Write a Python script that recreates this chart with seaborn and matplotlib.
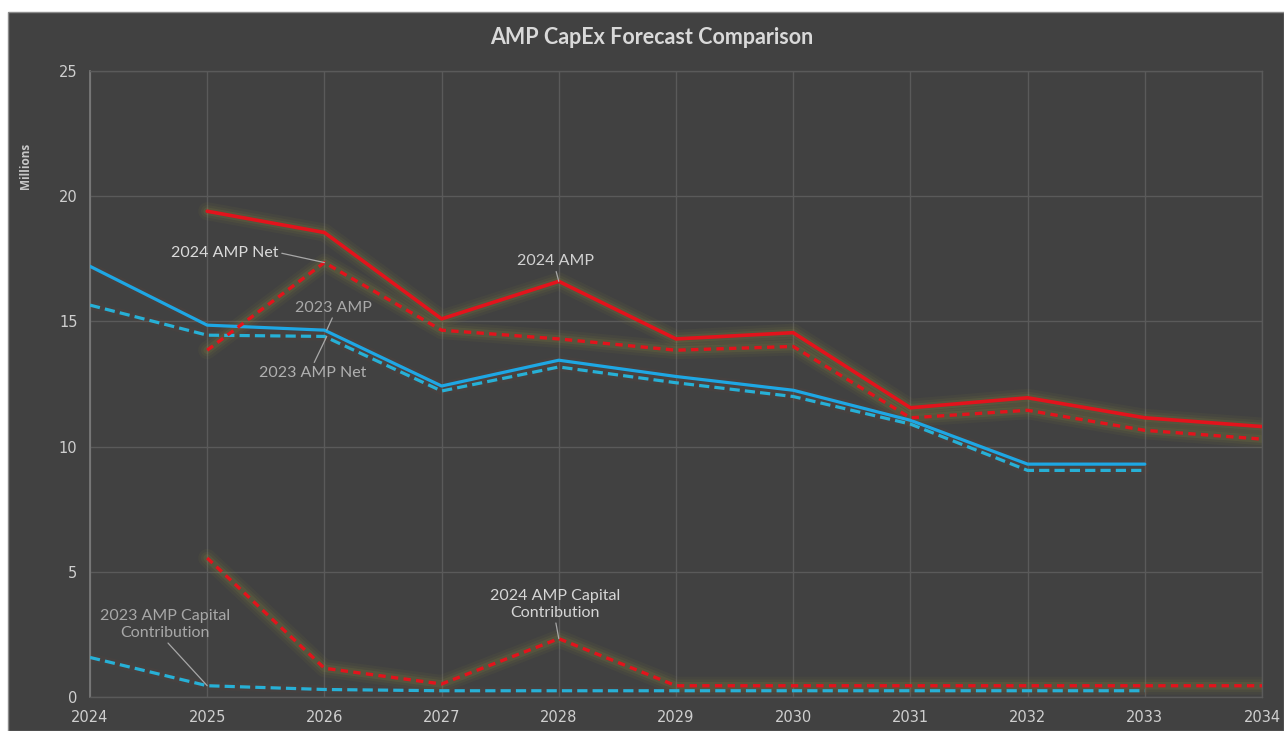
import numpy as np
import pandas as pd
import matplotlib
matplotlib.use("Agg")
import matplotlib.pyplot as plt
from matplotlib.patches import Rectangle
import seaborn as sns

# Forecast years and series (millions)
years = list(range(2024, 2035))
amp_2024 = [np.nan, 19.4, 18.55, 15.1, 16.6, 14.3, 14.55, 11.55, 11.95, 11.15, 10.8]
amp_2024_net = [np.nan, 13.85, 17.35, 14.65, 14.3, 13.85, 14.0, 11.15, 11.45, 10.65, 10.3]
amp_2023 = [17.2, 14.85, 14.65, 12.42, 13.45, 12.8, 12.25, 11.05, 9.3, 9.3, np.nan]
amp_2023_net = [15.65, 14.45, 14.4, 12.22, 13.18, 12.55, 12.0, 10.9, 9.05, 9.05, np.nan]
cap_2024 = [np.nan, 5.55, 1.15, 0.52, 2.33, 0.45, 0.45, 0.45, 0.45, 0.45, 0.45]
cap_2023 = [1.58, 0.45, 0.3, 0.25, 0.25, 0.25, 0.25, 0.25, 0.25, 0.25, np.nan]

y_ticks = [0, 5, 10, 15, 20, 25]
x_ticks = years

BG = "#414141"
GRID = "#5a5a5a"
RED = "#e3131c"
BLUE = "#1ea7e4"
BLUE_D = "#27b0d6"
GLOW = "#9c9a3c"

sns.set_theme(style="dark")
plt.rcParams["font.family"] = ["Lato", "DejaVu Sans"]

fig = plt.figure(figsize=(12.84, 7.31), dpi=100, facecolor="white")
fig.patches.append(Rectangle((8 / 1284, 0), 1 - 8 / 1284, 1 - 12 / 731,
                             transform=fig.transFigure, facecolor=BG,
                             edgecolor="#8c8c8c", linewidth=1.0, zorder=-10))
ax = fig.add_axes([90 / 1284, 34 / 731, (1262 - 90) / 1284, (697 - 71) / 731])
ax.set_zorder(1)
ax.set_facecolor(BG)

df = pd.DataFrame({
    "year": years,
    "amp_2024": amp_2024,
    "amp_2024_net": amp_2024_net,
    "amp_2023": amp_2023,
    "amp_2023_net": amp_2023_net,
    "cap_2024": cap_2024,
    "cap_2023": cap_2023,
})

# soft halo under the red series
for col in ["amp_2024", "amp_2024_net", "cap_2024"]:
    for lw, a in [(13, 0.06), (9, 0.08), (5.5, 0.12)]:
        sns.lineplot(data=df, x="year", y=col, ax=ax, color=GLOW, linewidth=lw,
                     alpha=a, solid_capstyle="round", solid_joinstyle="round",
                     zorder=2)
for col in ["amp_2023", "amp_2023_net", "cap_2023"]:
    sns.lineplot(data=df, x="year", y=col, ax=ax, color="#7a4a3a", linewidth=6,
                 alpha=0.10, zorder=2)

sns.lineplot(data=df, x="year", y="amp_2023", ax=ax, color=BLUE, linewidth=2.3, zorder=4)
sns.lineplot(data=df, x="year", y="amp_2023_net", ax=ax, color=BLUE_D, linewidth=2.3,
             linestyle=(0, (3.2, 1.6)), zorder=4)
sns.lineplot(data=df, x="year", y="cap_2023", ax=ax, color=BLUE_D, linewidth=2.3,
             linestyle=(0, (3.2, 1.6)), zorder=4)
sns.lineplot(data=df, x="year", y="amp_2024", ax=ax, color=RED, linewidth=2.6, zorder=5)
sns.lineplot(data=df, x="year", y="amp_2024_net", ax=ax, color=RED, linewidth=2.4,
             linestyle=(0, (2.2, 1.6)), zorder=5)
sns.lineplot(data=df, x="year", y="cap_2024", ax=ax, color=RED, linewidth=2.4,
             linestyle=(0, (2.2, 1.6)), zorder=5)

ax.set_xlim(2024, 2034)
ax.set_ylim(0, 25)
ax.set_xticks(x_ticks)
ax.set_xticklabels([str(y) for y in x_ticks])
ax.set_yticks(y_ticks)
ax.grid(True, color=GRID, linewidth=1.0)
ax.set_axisbelow(True)
for side in ["top", "right", "bottom"]:
    ax.spines[side].set_color(GRID)
    ax.spines[side].set_linewidth(1.0)
ax.spines["left"].set_color("#7c7c7c")
ax.spines["left"].set_linewidth(1.2)
ax.tick_params(axis="both", length=0, colors="#cfcfcf", labelsize=10.5,
               labelfontfamily="DejaVu Sans")
ax.tick_params(axis="y", pad=9)
ax.tick_params(axis="x", pad=9)
ax.set_xlabel("")
ax.set_ylabel("")

fig.text(25 / 1284, 1 - 166 / 731, "Millions", rotation=90, ha="center", va="center",
         color="#c8c8c8", fontsize=8.5, fontweight="bold", family=["Open Sans", "DejaVu Sans"])
fig.text(652 / 1284, 1 - 38 / 731, "AMP CapEx Forecast Comparison", ha="center",
         va="center", color="#d9d9d9", fontsize=15.5, fontweight="bold")

lead = dict(arrowstyle="-", color="#a8a8a8", lw=0.9, shrinkA=0, shrinkB=0)


def note(text, xy, xytext, color, relpos):
    ax.annotate(text, xy=xy, xytext=xytext, textcoords="data", ha="center",
                va="center", color=color, fontsize=11.5, linespacing=1.25,
                arrowprops=dict(lead, relpos=relpos), zorder=6)


note("2024 AMP Net", (2026, amp_2024_net[2]), (2025.15, 17.75), "#dadada", (1.0, 0.5))
note("2023 AMP", (2026.02, amp_2023[2]), (2026.08, 15.55), "#a9a9a9", (0.5, 0.0))
note("2023 AMP Net", (2026.02, amp_2023_net[2]), (2025.9, 12.95), "#b0b0b0", (0.5, 1.0))
note("2024 AMP", (2028, amp_2024[4]), (2027.97, 17.4), "#d2d2d2", (0.5, 0.0))
note("2023 AMP Capital\nContribution", (2025, cap_2023[1]), (2024.64, 2.9), "#a8a8a8",
     (0.5, 0.0))
note("2024 AMP Capital\nContribution", (2028, cap_2024[4]), (2027.97, 3.7), "#d6d6d6",
     (0.5, 0.0))

fig.savefig("out.png", dpi=100, facecolor=fig.get_facecolor())
